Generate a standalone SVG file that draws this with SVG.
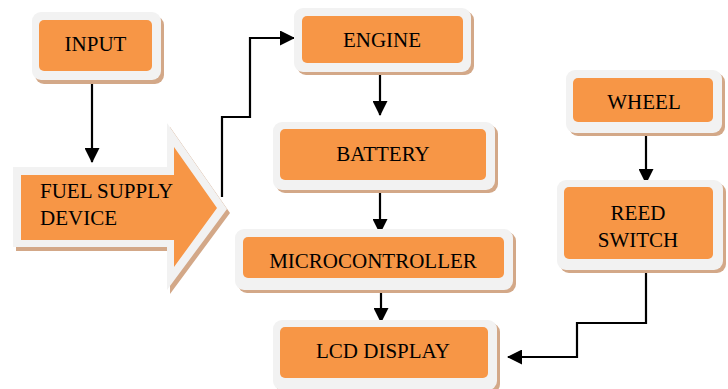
<svg xmlns="http://www.w3.org/2000/svg" width="728" height="389" viewBox="0 0 728 389">
<defs>
<style>
.sh{fill:#d3a888}
.fr{fill:#f2f2f2}
.in{fill:#f79646}
.t{font-family:"Liberation Serif","Times New Roman",serif;font-size:21px;fill:#000;text-anchor:middle}
.tl{font-family:"Liberation Serif","Times New Roman",serif;font-size:21px;fill:#000}
.c{fill:none;stroke:#000;stroke-width:2.2}
</style>
<marker id="ah" markerWidth="10" markerHeight="10" refX="9" refY="5" orient="auto" markerUnits="userSpaceOnUse" viewBox="0 0 10 10">
<path d="M0,0 L10,5 L0,10 z" fill="#000"/>
</marker>
<marker id="ahb" markerWidth="15" markerHeight="15" refX="14" refY="7.5" orient="auto" markerUnits="userSpaceOnUse" viewBox="0 0 15 15">
<path d="M0,0 L15,7.5 L0,15 z" fill="#000"/>
</marker>
</defs>
<g id="connectors">
<path class="c" d="M92,83 V162" marker-end="url(#ahb)"/>
<path class="c" d="M222,197 V117 H250 V38 H294" marker-end="url(#ahb)"/>
<path class="c" d="M380,72 V115" marker-end="url(#ahb)"/>
<path class="c" d="M380,183 V233" marker-end="url(#ahb)"/>
<path class="c" d="M381,279 V322" marker-end="url(#ahb)"/>
<path class="c" d="M646,133 V183" marker-end="url(#ahb)"/>
<path class="c" d="M646,260 V323 H577 V357 H508" marker-end="url(#ahb)"/>
</g>
<g id="input">
<rect class="sh" x="35" y="16" width="129" height="68" rx="9"/>
<rect class="fr" x="32" y="12" width="129" height="68" rx="9"/>
<rect class="in" x="39" y="20" width="113" height="51" rx="5"/>
<text class="t" x="95.5" y="51">INPUT</text>
</g>
<g id="fuel">
<path class="sh" d="M16,171 H170 V127 L230,213 L170,294 V251 H16 z"/>
<path class="fr" d="M13,167 H167 V123 L227,209 L167,290 V247 H13 z"/>
<path class="in" d="M21,175 H174 V147 L217,208 L174,267 V240 H21 z"/>
<text class="tl" x="40" y="198">FUEL SUPPLY</text>
<text class="tl" x="40" y="225">DEVICE</text>
</g>
<g id="engine">
<rect class="sh" x="297" y="11" width="177" height="64" rx="9"/>
<rect class="fr" x="294" y="8" width="177" height="64" rx="9"/>
<rect class="in" x="302" y="16" width="161" height="47" rx="5"/>
<text class="t" x="382" y="47">ENGINE</text>
</g>
<g id="battery">
<rect class="sh" x="276" y="125" width="222" height="68" rx="9"/>
<rect class="fr" x="273" y="122" width="222" height="68" rx="9"/>
<rect class="in" x="280" y="129" width="206" height="51" rx="5"/>
<text class="t" x="383" y="161">BATTERY</text>
</g>
<g id="microcontroller">
<rect class="sh" x="238" y="232" width="278" height="61" rx="9"/>
<rect class="fr" x="235" y="229" width="278" height="61" rx="9"/>
<rect class="in" x="243" y="237" width="261" height="41" rx="5"/>
<text class="t" x="373" y="268">MICROCONTROLLER</text>
</g>
<g id="lcd">
<rect class="sh" x="276" y="323" width="224" height="70" rx="9"/>
<rect class="fr" x="273" y="320" width="224" height="70" rx="9"/>
<rect class="in" x="280" y="327" width="208" height="51" rx="5"/>
<text class="t" x="383" y="358">LCD DISPLAY</text>
</g>
<g id="wheel">
<rect class="sh" x="569" y="73" width="156" height="63" rx="9"/>
<rect class="fr" x="566" y="70" width="156" height="63" rx="9"/>
<rect class="in" x="573" y="78" width="140" height="44" rx="5"/>
<text class="t" x="644" y="109">WHEEL</text>
</g>
<g id="reed">
<rect class="sh" x="560" y="183" width="166" height="90" rx="9"/>
<rect class="fr" x="557" y="180" width="166" height="90" rx="9"/>
<rect class="in" x="564" y="187" width="149" height="72" rx="5"/>
<text class="t" x="638" y="220">REED</text>
<text class="t" x="638" y="247">SWITCH</text>
</g>
</svg>
